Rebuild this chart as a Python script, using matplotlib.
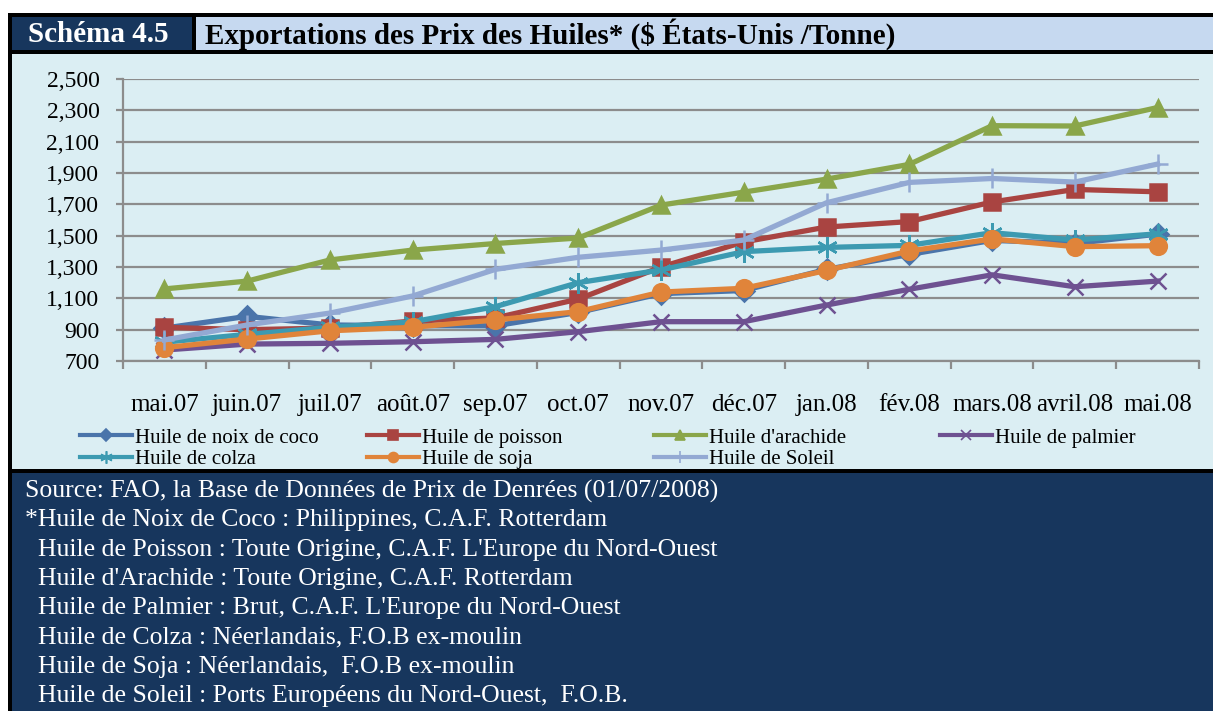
import matplotlib
matplotlib.use("Agg")
from matplotlib import pyplot as plt
from matplotlib.patches import Rectangle
from matplotlib.lines import Line2D

months = ["mai.07", "juin.07", "juil.07", "août.07", "sep.07", "oct.07", "nov.07",
          "déc.07", "jan.08", "fév.08", "mars.08", "avril.08", "mai.08"]

coco = [910, 985, 930, 925, 925, 1010, 1130, 1150, 1285, 1380, 1470, 1450, 1510]
poisson = [915, 900, 910, 955, 975, 1095, 1300, 1460, 1555, 1590, 1715, 1795, 1780]
arachide = [1160, 1210, 1345, 1408, 1450, 1485, 1695, 1778, 1861, 1955, 2202, 2200, 2318]
palmier = [770, 808, 813, 823, 838, 887, 951, 951, 1057, 1158, 1250, 1174, 1210]
colza = [820, 870, 915, 950, 1047, 1200, 1281, 1398, 1425, 1438, 1519, 1472, 1512]
soja = [785, 840, 893, 915, 962, 1015, 1140, 1164, 1278, 1402, 1479, 1430, 1436]
soleil = [834, 930, 1006, 1115, 1285, 1362, 1408, 1472, 1710, 1840, 1865, 1842, 1957]

labels = ["Huile de noix de coco", "Huile de poisson", "Huile d'arachide", "Huile de palmier",
          "Huile de colza", "Huile de soja", "Huile de Soleil"]

footer = [
    "Source: FAO, la Base de Données de Prix de Denrées (01/07/2008)",
    "*Huile de Noix de Coco : Philippines, C.A.F. Rotterdam",
    "  Huile de Poisson : Toute Origine, C.A.F. L'Europe du Nord-Ouest",
    "  Huile d'Arachide : Toute Origine, C.A.F. Rotterdam",
    "  Huile de Palmier : Brut, C.A.F. L'Europe du Nord-Ouest",
    "  Huile de Colza : Néerlandais, F.O.B ex-moulin",
    "  Huile de Soja : Néerlandais,  F.O.B ex-moulin",
    "  Huile de Soleil : Ports Européens du Nord-Ouest,  F.O.B.",
]

plt.rcParams['font.family'] = ['Liberation Serif', 'DejaVu Serif']

W, H = 1213, 711
navy = "#17365d"
chart_bg = "#dbeef3"
title_bg = "#c6d9f0"

fig = plt.figure(figsize=(W / 100, H / 100), dpi=100)


def box(x0, y0, x1, y1, color):
    # pixel coords, y from top
    fig.add_artist(Rectangle((x0 / W, 1 - y1 / H), (x1 - x0) / W, (y1 - y0) / H,
                             transform=fig.transFigure, facecolor=color, edgecolor="none", zorder=0))


box(8, 13, W, 711, "black")
box(12, 17, 192, 50, navy)
box(196, 17, W + 2, 50, title_bg)
box(12, 54, W + 2, 469, chart_bg)
box(12, 473, W + 2, 711, navy)

fig.text(98 / W, 1 - 34 / H, "Schéma 4.5", color="white", fontsize=21, fontweight="bold",
         ha="center", va="center")
fig.text(205 / W, 1 - 34 / H, "Exportations des Prix des Huiles* ($ États-Unis /Tonne)",
         color="black", fontsize=21, fontweight="bold", ha="left", va="center")

ax = fig.add_axes([123 / W, 1 - 361 / H, (1199 - 123) / W, (361 - 79) / H])
ax.set_facecolor("none")

x = list(range(len(months)))
series = [
    (coco, "#4a74aa", "D", 10),
    (poisson, "#a94441", "s", 11),
    (arachide, "#8aa64a", "^", 12),
    (palmier, "#6e5191", "x", 12),
    (colza, "#3c9ab1", (6, 2, 0), 15),
    (soja, "#e0843a", "o", 12),
    (soleil, "#93a9d3", "+", 15),
]

handles = []
for (vals, color, marker, ms), lab in zip(series, labels):
    ax.plot(x, vals, color=color, lw=3.8, marker=marker, markersize=ms,
            markeredgewidth=1.8, markeredgecolor=color, markerfacecolor=color,
            label=lab, clip_on=False)
    handles.append(Line2D([0], [0], color=color, lw=3, marker=marker, markersize=ms * 0.6,
                          markeredgewidth=1.2, markeredgecolor=color, markerfacecolor=color))

ax.set_xlim(-0.5, len(months) - 0.5)
ax.set_ylim(700, 2500)
ax.set_yticks(range(700, 2501, 200))
ax.set_yticklabels([f"{v:,}" for v in range(700, 2501, 200)])
ax.yaxis.grid(True, color="#8c8c8c", lw=1.6)
ax.set_axisbelow(True)

ax.set_xticks(x)
ax.set_xticklabels(months)
ax.set_xticks([i - 0.5 for i in range(len(months) + 1)], minor=True)
ax.tick_params(axis="x", which="major", length=0, pad=24, labelsize=18)
ax.tick_params(axis="x", which="minor", length=6, width=1.6, color="#8c8c8c")
ax.tick_params(axis="y", length=5, width=1.6, color="#8c8c8c", pad=12, labelsize=17)

for side in ["top", "right"]:
    ax.spines[side].set_visible(False)
for side in ["left", "bottom"]:
    ax.spines[side].set_color("#8c8c8c")
    ax.spines[side].set_linewidth(1.6)

# legend: four columns, two rows
cols = [(80, [0, 4]), (367, [1, 5]), (654, [2, 6]), (940, [3])]
for xpos, idx in cols:
    fig.legend([handles[i] for i in idx], [labels[i] for i in idx],
               loc="upper left", bbox_to_anchor=(xpos / W, 1 - 428 / H),
               frameon=False, fontsize=15, handlelength=2.5, handletextpad=0.15,
               borderpad=0, borderaxespad=0, labelspacing=0.1)

for i, line in enumerate(footer):
    fig.text(25 / W, 1 - (491 + 29.3 * i) / H, line, color="white", fontsize=18.5,
             ha="left", va="center")

fig.savefig("out.png", dpi=100)
